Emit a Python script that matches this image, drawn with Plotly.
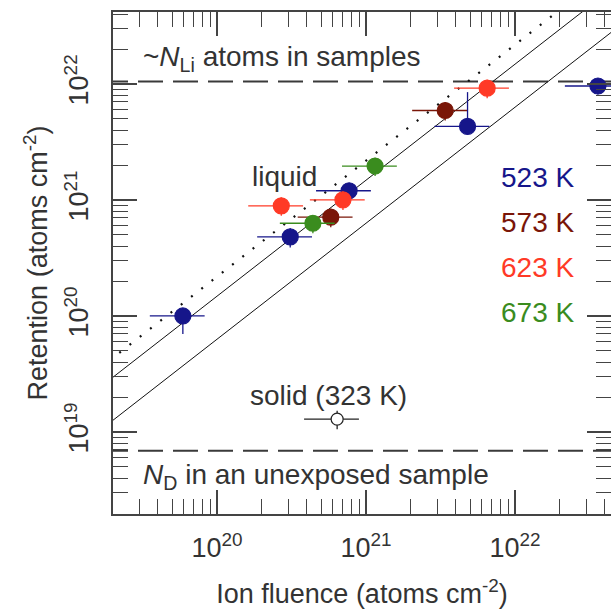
import plotly.graph_objects as go

# ---- data ----
blue_x = [5.9e19, 3.1e20, 7.7e20, 4.8e21, 3.6e22]
blue_y = [1.0e20, 4.8e20, 1.2e21, 4.3e21, 9.6e21]
blue_yerr_plus = [0.17e20, 0.9e20, 0.2e21, 4.2e21, 1.5e21]
blue_yerr_minus = [0.3e20, 0.9e20, 0.2e21, 0.5e21, 1.5e21]

darkred_x = [5.8e20, 3.4e21]
darkred_y = [7.1e20, 5.9e21]

red_x = [2.7e20, 7.0e20, 6.5e21]
red_y = [8.9e20, 1.0e21, 9.2e21]

green_x = [4.4e20, 1.15e21]
green_y = [6.3e20, 1.96e21]

solid_x = [6.4e20]
solid_y = [1.29e19]

x_rel_err = 0.40
y_rel_err = 0.18

N_Li = 1.05e22
N_D = 6.9e18

line_x = [1e19, 1e23]
upper_factor = 1.48
lower_factor = 0.63
dotted_factor = 2.18

xtick_vals = [1e20, 1e21, 1e22]
xtick_text = ["10<sup>20</sup>", "10<sup>21</sup>", "10<sup>22</sup>"]
ytick_vals = [1e19, 1e20, 1e21, 1e22]
ytick_text = ["10<sup>19</sup>", "10<sup>20</sup>", "10<sup>21</sup>", "10<sup>22</sup>"]

C_BLUE = "#16168a"
C_DRED = "#7a1608"
C_RED = "#ff3a26"
C_GREEN = "#3a8c1e"
C_TXT = "#333333"
C_AX = "#444444"
FONT = "Liberation Sans, Arial, sans-serif"

fig = go.Figure()

# horizontal dashed reference levels
for lvl in [N_Li, N_D]:
    fig.add_trace(go.Scatter(x=line_x, y=[lvl, lvl], mode="lines",
                             line=dict(color="#3a3a3a", width=2, dash="25px,10px"),
                             hoverinfo="skip", showlegend=False))

# slope-1 reference lines
for f, dash, w in [(upper_factor, "solid", 1), (lower_factor, "solid", 1), (dotted_factor, "2px,11px", 2.2)]:
    fig.add_trace(go.Scatter(x=line_x, y=[v * f for v in line_x], mode="lines",
                             line=dict(color="#111111", width=w, dash=dash),
                             hoverinfo="skip", showlegend=False))


def series(xs, ys, color, yplus=None, yminus=None, filled=True, size=16):
    if yplus is None:
        yplus = [v * y_rel_err for v in ys]
    if yminus is None:
        yminus = [v * y_rel_err for v in ys]
    fig.add_trace(go.Scatter(
        x=xs, y=ys, mode="markers",
        marker=dict(size=size, color=color if filled else "white",
                    line=dict(color=color, width=1.2)),
        error_x=dict(type="data", array=[v * x_rel_err for v in xs],
                     arrayminus=[v * x_rel_err for v in xs],
                     color=color, thickness=1.3, width=0),
        error_y=dict(type="data", array=yplus, arrayminus=yminus,
                     color=color, thickness=1.3, width=0),
        showlegend=False))


series(blue_x, blue_y, C_BLUE, blue_yerr_plus, blue_yerr_minus)
series(darkred_x, darkred_y, C_DRED)
series(red_x, red_y, C_RED)
series(green_x, green_y, C_GREEN)
series(solid_x, solid_y, "#222222", filled=False, size=12)

minor_vals = [float(d) * 10.0 ** e for e in range(18, 24) for d in range(2, 10)]

axis_common = dict(
    type="log", showline=True, linecolor=C_AX, linewidth=2, mirror="ticks",
    ticks="inside", ticklen=24, tickwidth=1.5, tickcolor=C_AX,
    showgrid=False, zeroline=False, automargin=False,
    tickfont=dict(family=FONT, size=27, color=C_TXT),
    minor=dict(ticks="inside", ticklen=15, tickwidth=1.3, tickcolor=C_AX,
               tickmode="array", tickvals=minor_vals, showgrid=False),
)

fig.update_layout(
    width=611, height=609,
    margin=dict(l=113, r=0, t=12, b=95),
    plot_bgcolor="white", paper_bgcolor="white",
    font=dict(family=FONT, color=C_TXT, size=27),
    xaxis=dict(range=[19.302, 22.644], tickmode="array", tickvals=xtick_vals,
               ticktext=xtick_text, ticklabelstandoff=9,
               title=dict(text="Ion fluence (atoms cm<sup>-2</sup>)",
                          font=dict(family=FONT, size=27, color=C_TXT), standoff=26),
               **axis_common),
    yaxis=dict(range=[18.293, 22.62], tickmode="array", tickvals=ytick_vals,
               ticktext=ytick_text, tickangle=-90, ticklabelstandoff=12,
               title=dict(text="Retention (atoms cm<sup>-2</sup>)",
                          font=dict(family=FONT, size=27, color=C_TXT), standoff=4),
               **axis_common),
)


def px2paper(px, py):
    return (px - 113) / 498, (514 - py) / 502


def label(text, px, py, color=C_TXT):
    x, y = px2paper(px, py)
    fig.add_annotation(text=text, x=x, y=y, xref="paper", yref="paper",
                       xanchor="left", yanchor="middle", showarrow=False,
                       font=dict(family=FONT, size=28, color=color))


label("~<i>N</i><sub>Li</sub> atoms in samples", 141, 58)
label("liquid", 250, 176)
label("523 K", 499, 177, C_BLUE)
label("573 K", 499, 223, C_DRED)
label("623 K", 499, 267, C_RED)
label("673 K", 499, 312, C_GREEN)
label("solid (323 K)", 248, 395)
label("<i>N</i><sub>D</sub> in an unexposed sample", 141, 476)

fig.write_html("out.html", config={"displayModeBar": False},
               post_script="document.body.style.margin='0';document.body.style.padding='0';")
